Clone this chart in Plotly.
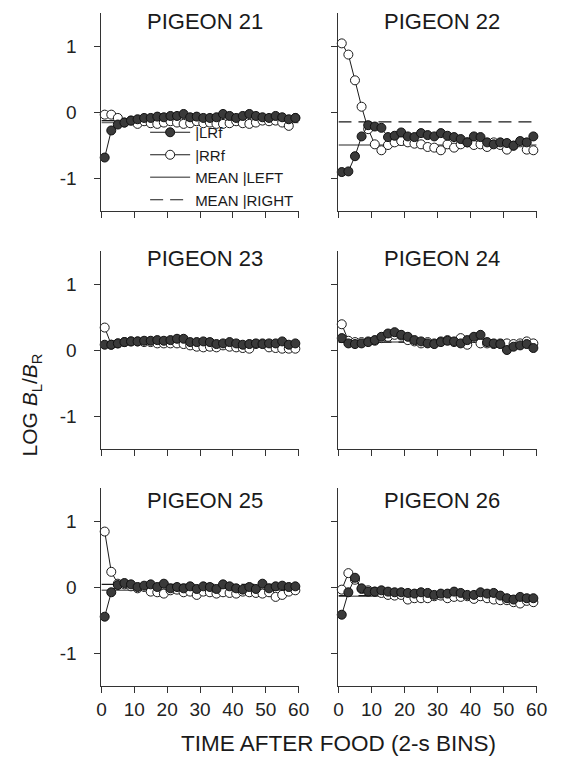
import plotly.graph_objects as go

x_bins = [1, 3, 5, 7, 9, 11, 13, 15, 17, 19, 21, 23, 25, 27, 29, 31, 33, 35, 37, 39,
          41, 43, 45, 47, 49, 51, 53, 55, 57, 59]

pigeons = ["PIGEON 21", "PIGEON 22", "PIGEON 23", "PIGEON 24", "PIGEON 25", "PIGEON 26"]

left_21 = [-0.69, -0.28, -0.19, -0.16, -0.13, -0.11, -0.09, -0.09, -0.07, -0.08, -0.06, -0.06, -0.03, -0.08,
           -0.07, -0.09, -0.09, -0.08, -0.03, -0.06, -0.09, -0.06, -0.03, -0.06, -0.08, -0.09, -0.06, -0.08,
           -0.11, -0.09]
right_21 = [-0.04, -0.04, -0.09, -0.16, -0.13, -0.18, -0.14, -0.17, -0.18, -0.16, -0.14, -0.16, -0.18, -0.17,
            -0.14, -0.17, -0.16, -0.18, -0.18, -0.17, -0.14, -0.17, -0.18, -0.16, -0.13, -0.14, -0.13, -0.16,
            -0.21, -0.09]
left_22 = [-0.91, -0.90, -0.67, -0.37, -0.20, -0.22, -0.24, -0.38, -0.36, -0.31, -0.37, -0.38, -0.32, -0.35,
           -0.37, -0.32, -0.36, -0.38, -0.41, -0.46, -0.37, -0.38, -0.46, -0.49, -0.46, -0.47, -0.51, -0.44,
           -0.46, -0.37]
right_22 = [1.04, 0.87, 0.48, 0.08, -0.26, -0.49, -0.58, -0.50, -0.46, -0.44, -0.46, -0.48, -0.49, -0.53,
            -0.54, -0.58, -0.49, -0.54, -0.49, -0.46, -0.50, -0.49, -0.53, -0.46, -0.50, -0.57, -0.51, -0.46,
            -0.57, -0.58]
left_23 = [0.08, 0.08, 0.10, 0.12, 0.13, 0.13, 0.14, 0.14, 0.15, 0.14, 0.15, 0.17, 0.17, 0.12, 0.12, 0.13,
           0.12, 0.09, 0.10, 0.12, 0.10, 0.08, 0.09, 0.10, 0.09, 0.10, 0.10, 0.13, 0.08, 0.10]
right_23 = [0.34, 0.08, 0.10, 0.12, 0.13, 0.13, 0.12, 0.12, 0.10, 0.10, 0.10, 0.10, 0.09, 0.07, 0.05, 0.04,
            0.05, 0.04, 0.07, 0.05, 0.04, 0.03, 0.02, 0.09, 0.10, 0.04, 0.03, 0.02, 0.02, 0.02]
left_24 = [0.18, 0.10, 0.09, 0.10, 0.12, 0.15, 0.20, 0.25, 0.27, 0.23, 0.20, 0.15, 0.13, 0.10, 0.09, 0.12,
           0.14, 0.13, 0.10, 0.15, 0.20, 0.23, 0.12, 0.10, 0.09, 0.00, 0.05, 0.07, 0.09, 0.03]
right_24 = [0.39, 0.14, 0.12, 0.12, 0.13, 0.14, 0.18, 0.20, 0.23, 0.22, 0.15, 0.13, 0.10, 0.12, 0.10, 0.13,
            0.15, 0.12, 0.18, 0.08, 0.18, 0.10, 0.10, 0.09, 0.10, 0.10, 0.09, 0.10, 0.13, 0.10]
left_25 = [-0.45, -0.08, 0.03, 0.06, 0.04, 0.00, 0.02, 0.04, 0.00, 0.05, -0.02, 0.00, -0.02, 0.01, -0.03,
           0.01, 0.00, -0.03, 0.04, 0.01, -0.02, -0.04, 0.00, -0.03, 0.05, -0.02, 0.01, 0.02, 0.00, 0.01]
right_25 = [0.84, 0.23, 0.05, 0.04, 0.01, -0.02, 0.00, -0.07, -0.08, -0.10, -0.05, -0.04, -0.08, -0.07,
            -0.12, -0.07, -0.08, -0.10, -0.08, -0.09, -0.10, -0.07, -0.08, -0.09, -0.10, -0.08, -0.15, -0.12,
            -0.07, -0.05]
left_26 = [-0.42, -0.08, 0.14, -0.02, -0.07, -0.07, -0.05, -0.07, -0.08, -0.08, -0.09, -0.10, -0.08, -0.09,
           -0.12, -0.10, -0.10, -0.07, -0.09, -0.12, -0.12, -0.08, -0.10, -0.09, -0.13, -0.17, -0.19, -0.15,
           -0.17, -0.17]
right_26 = [-0.04, 0.21, 0.11, -0.03, -0.05, -0.07, -0.09, -0.12, -0.13, -0.12, -0.19, -0.17, -0.17, -0.17,
            -0.14, -0.13, -0.17, -0.15, -0.15, -0.14, -0.18, -0.14, -0.17, -0.19, -0.20, -0.20, -0.23, -0.25,
            -0.21, -0.23]

lefts = [left_21, left_22, left_23, left_24, left_25, left_26]
rights = [right_21, right_22, right_23, right_24, right_25, right_26]
mean_left = [-0.16, -0.50, 0.10, 0.12, -0.05, -0.14]
mean_right = [-0.13, -0.15, 0.09, 0.12, 0.04, -0.13]

x_ticks = [0, 10, 20, 30, 40, 50, 60]
y_ticks = [-1, 0, 1]
legend_names = ["|LRf", "|RRf", "MEAN |LEFT", "MEAN |RIGHT"]

FONT = "Liberation Sans, Arial, sans-serif"
W, H = 562, 760
col_px = [(91, 294), (335, 539)]
row_px = [(5, 203), (243, 441), (480, 678)]
title_px = [14, 250.5, 492]

fig = go.Figure()

for i in range(6):
    r, c = divmod(i, 2)
    ax = "" if i == 0 else str(i + 1)
    xa, ya = "x" + ax, "y" + ax
    show = i == 0
    fig.add_trace(go.Scatter(x=[x_ticks[0], x_ticks[-1]], y=[mean_left[i]] * 2, xaxis=xa, yaxis=ya,
                             mode="lines", line=dict(color="#6e6e6e", width=1.5),
                             name=legend_names[2], showlegend=show, legendrank=3, hoverinfo="skip"))
    fig.add_trace(go.Scatter(x=[x_ticks[0], x_ticks[-1]], y=[mean_right[i]] * 2, xaxis=xa, yaxis=ya,
                             mode="lines", line=dict(color="#1a1a1a", width=1.2, dash="13px,7px"),
                             name=legend_names[3], showlegend=show, legendrank=4, hoverinfo="skip"))
    fig.add_trace(go.Scatter(x=x_bins, y=rights[i], xaxis=xa, yaxis=ya, mode="lines+markers",
                             line=dict(color="#1a1a1a", width=1),
                             marker=dict(symbol="circle", size=9, color="white",
                                         line=dict(color="#1a1a1a", width=1)),
                             name=legend_names[1], showlegend=show, legendrank=2, cliponaxis=False))
    fig.add_trace(go.Scatter(x=x_bins, y=lefts[i], xaxis=xa, yaxis=ya, mode="lines+markers",
                             line=dict(color="#1a1a1a", width=1),
                             marker=dict(symbol="circle", size=9, color="#3a3a3a",
                                         line=dict(color="#111111", width=1)),
                             name=legend_names[0], showlegend=show, legendrank=1, cliponaxis=False))

    x0, x1 = col_px[c]
    y0, y1 = row_px[r]
    axis_common = dict(showgrid=False, zeroline=False, showline=True, linecolor="#333333",
                       linewidth=1, ticks="outside", ticklen=6, tickcolor="#333333", tickwidth=1,
                       tickfont=dict(family=FONT, size=19, color="#222222"))
    fig.layout["xaxis" + ax] = dict(domain=[x0 / W, x1 / W], range=[0, 60], anchor=ya,
                                    tickvals=x_ticks, ticktext=[str(v) for v in x_ticks],
                                    showticklabels=(r == 2), ticklabelstandoff=0, **axis_common)
    fig.layout["yaxis" + ax] = dict(domain=[1 - y1 / H, 1 - y0 / H], range=[-1.5, 1.5], anchor=xa,
                                    tickvals=y_ticks, ticktext=[str(v) for v in y_ticks],
                                    showticklabels=(c == 0), ticklabelstandoff=14, **axis_common)
    fig.add_annotation(text=pigeons[i], xref="paper", yref="paper",
                       x=(x0 + x1) / 2 / W + 5 / W, y=1 - title_px[r] / H, xanchor="center",
                       yanchor="middle", showarrow=False, font=dict(family=FONT, size=22, color="#1a1a1a"))

fig.add_annotation(text="TIME AFTER FOOD (2-s BINS)", xref="paper", yref="paper",
                   x=335 / W, y=1 - 735 / H, xanchor="center", yanchor="middle", showarrow=False,
                   font=dict(family=FONT, size=22.5, color="#1a1a1a"))
fig.add_annotation(text="LOG <i>B</i><sub>L</sub>/<i>B</i><sub>R</sub>", xref="paper", yref="paper",
                   x=19 / W, y=1 - 397 / H, xanchor="center", yanchor="middle", showarrow=False,
                   textangle=-90, font=dict(family=FONT, size=21, color="#1a1a1a"))

fig.update_layout(
    width=W, height=H, margin=dict(l=0, r=0, t=0, b=0),
    paper_bgcolor="white", plot_bgcolor="white",
    showlegend=True,
    legend=dict(x=136 / W, y=1 - 108 / H, xanchor="left", yanchor="top", bgcolor="rgba(0,0,0,0)",
                font=dict(family=FONT, size=15, color="#1a1a1a"), tracegroupgap=0, itemwidth=40),
)

fig.write_html("out.html")
